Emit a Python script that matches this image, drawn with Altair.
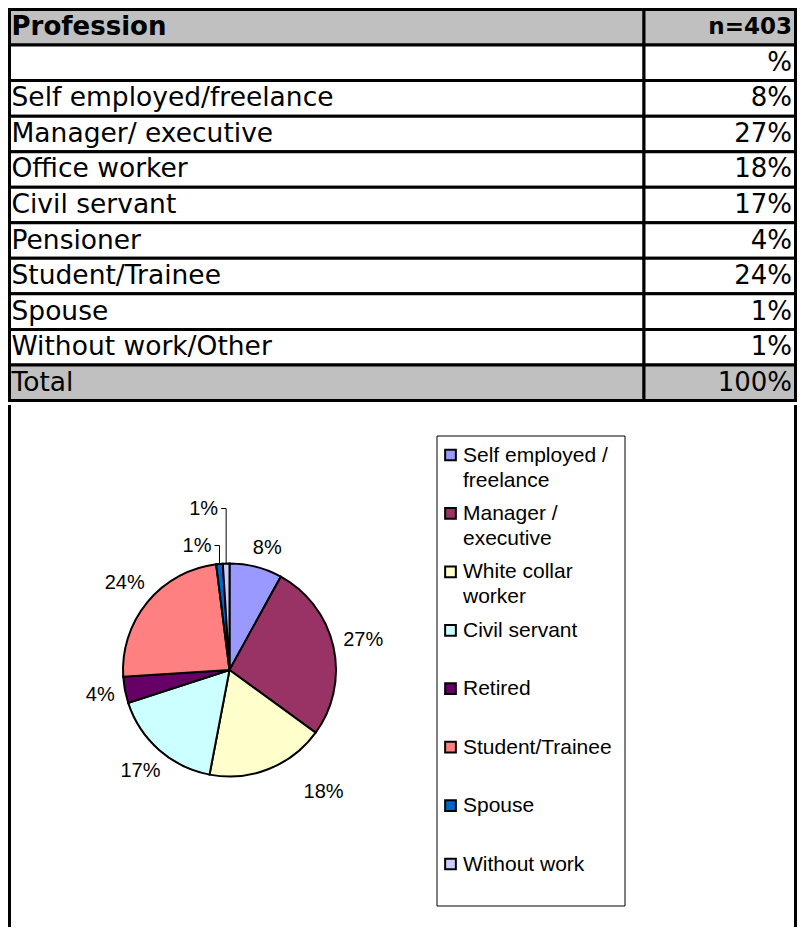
import altair as alt
import pandas as pd

# ---------------- data ----------------
row_labels = ["Self employed/freelance", "Manager/ executive", "Office worker",
              "Civil servant", "Pensioner", "Student/Trainee", "Spouse",
              "Without work/Other"]
row_values = ["8%", "27%", "18%", "17%", "4%", "24%", "1%", "1%"]
header_left, header_right = "Profession", "n=403"
unit_left, unit_right = "", "%"
total_left, total_right = "Total", "100%"

pie_categories = ["Self employed /\nfreelance", "Manager /\nexecutive",
                  "White collar\nworker", "Civil servant", "Retired",
                  "Student/Trainee", "Spouse", "Without work"]
pie_values = [8, 27, 18, 17, 4, 24, 1, 1]
pie_colors = ["#9999FF", "#993366", "#FFFFCC", "#CCFFFF", "#660066",
              "#FF8080", "#0066CC", "#CCCCFF"]

# ---------------- table ----------------
rows = [(header_left, header_right, "header"), (unit_left, unit_right, "unit")]
rows += [(l, v, "body") for l, v in zip(row_labels, row_values)]
rows += [(total_left, total_right, "total")]
table_df = pd.DataFrame({
    "r": list(range(len(rows))),
    "left": [r[0] for r in rows],
    "right": [r[1] for r in rows],
    "kind": [r[2] for r in rows],
})

W = 789
HA = 394
COL = 636
RIGHT = W - 1.5
yA = alt.Y("r:O", axis=None,
           scale=alt.Scale(range=[1.5, 392.5], paddingInner=0, paddingOuter=0))
fillA = alt.Fill("kind:N", legend=None,
                 scale=alt.Scale(domain=["header", "unit", "body", "total"],
                                 range=["#C0C0C0", "#FFFFFF", "#FFFFFF", "#C0C0C0"]))
baseA = alt.Chart(table_df)
cell1 = baseA.mark_rect(stroke="black", strokeWidth=3).encode(
    x=alt.value(1.5), x2=alt.value(COL), y=yA, fill=fillA)
cell2 = baseA.mark_rect(stroke="black", strokeWidth=3).encode(
    x=alt.value(COL), x2=alt.value(RIGHT), y=yA, fill=fillA)
txt_left = baseA.transform_filter("datum.kind != 'header'").mark_text(
    align="left", baseline="middle", font="DejaVu Sans", fontSize=26.5, color="black"
).encode(x=alt.value(3.5), y=yA, text="left:N")
txt_right = baseA.transform_filter("datum.kind != 'header'").mark_text(
    align="right", baseline="middle", font="DejaVu Sans", fontSize=26, color="black"
).encode(x=alt.value(RIGHT - 3.5), y=yA, text="right:N")
hdr_left = baseA.transform_filter("datum.kind == 'header'").mark_text(
    align="left", baseline="middle", font="DejaVu Sans", fontSize=26,
    fontWeight="bold", color="black"
).encode(x=alt.value(3.5), y=yA, text="left:N")
hdr_right = baseA.transform_filter("datum.kind == 'header'").mark_text(
    align="right", baseline="middle", font="DejaVu Sans", fontSize=23,
    fontWeight="bold", color="black"
).encode(x=alt.value(RIGHT - 3.5), y=yA, text="right:N")

chartA = alt.layer(cell1, cell2, txt_left, txt_right, hdr_left, hdr_right).properties(
    width=W, height=HA)

# ---------------- pie + legend ----------------
HB = 522
CX, CY, R = 221.5, 265, 106.5

pie_df = pd.DataFrame({
    "cat": pie_categories,
    "pct": pie_values,
    "idx": list(range(len(pie_categories))),
})
one = pd.DataFrame({"z": [0]})

fillB = alt.Fill("cat:N", legend=None,
                 scale=alt.Scale(domain=pie_categories, range=pie_colors))

pie_base = alt.Chart(pie_df).transform_window(
    cum="sum(pct)", sort=[alt.SortField("idx")], frame=[None, 0]
).transform_calculate(
    a0="2*PI*(datum.cum - datum.pct)/100",
    a1="2*PI*datum.cum/100",
    lab="datum.pct + '%'",
).transform_calculate(
    am="(datum.a0 + datum.a1)/2"
)

arcs = pie_base.mark_arc(outerRadius=R, stroke="black", strokeWidth=2).encode(
    theta=alt.Theta("a0:Q", scale=None, stack=None),
    theta2="a1:Q",
    x=alt.value(CX), y=alt.value(CY),
    fill=fillB,
)

# labels of larger slices: outside the pie, pushed out by the text box size
big_labels = pie_base.transform_filter("datum.pct >= 2").transform_calculate(
    la="datum.am + (datum.idx == 2 ? -0.28 : 0) + (datum.idx == 0 ? 0.05 : 0)",
).transform_calculate(
    w="11*length(datum.lab) + 6",
    lr="%f + 10 + abs(sin(datum.la))*datum.w/2 + abs(cos(datum.la))*7 + (datum.idx == 2 ? 20 : 0)" % R,
).mark_text(align="center", baseline="middle", font="Liberation Sans",
            fontSize=20, color="black").encode(
    x=alt.value(CX), y=alt.value(CY),
    theta=alt.Theta("la:Q", scale=None, stack=None),
    radius=alt.Radius("lr:Q", scale=None),
    text="lab:N",
)

small = pie_base.transform_filter("datum.pct < 2").transform_window(
    k="row_number()", sort=[alt.SortField("idx")]
).transform_calculate(
    ex="%f + %f*sin(datum.am)" % (CX, R),
    ey="%f - %f*cos(datum.am)" % (CY, R),
    ly="%f - %f - 18 - 37*(datum.k - 1)" % (CY, R),
)

small_labels = small.transform_calculate(lx="datum.ex - 8").mark_text(
    align="right", baseline="middle", font="Liberation Sans", fontSize=20,
    color="black").encode(
    x=alt.X("lx:Q", scale=None), y=alt.Y("ly:Q", scale=None), text="lab:N")

leaders = small.transform_calculate(pts="sequence(3)").transform_flatten(
    ["pts"]).transform_calculate(
    px="datum.pts == 2 ? datum.ex - 5 : datum.ex",
    py="datum.pts == 0 ? datum.ey : datum.ly",
).mark_line(color="black", strokeWidth=1).encode(
    x=alt.X("px:Q", scale=None), y=alt.Y("py:Q", scale=None),
    detail="cat:N", order="pts:Q")

legend_box = alt.Chart(one).mark_rect(fill="white", stroke="black",
                                      strokeWidth=1).encode(
    x=alt.value(429), x2=alt.value(617), y=alt.value(31), y2=alt.value(501))

yL = alt.Y("cat:N", sort=pie_categories, axis=None,
           scale=alt.Scale(type="point", range=[50, 459], padding=0))
legend_sym = alt.Chart(pie_df).mark_square(size=115, stroke="black",
                                           strokeWidth=2, opacity=1).encode(
    x=alt.value(442.5), y=yL, fill=fillB)
legend_txt = alt.Chart(pie_df).mark_text(
    align="left", baseline="line-top", lineHeight=25, dy=-12.5, lineBreak="\n",
    font="Liberation Sans", fontSize=21, color="black").encode(
    x=alt.value(455), y=yL, text="cat:N")

borders = alt.Chart(one).mark_rule(color="black", strokeWidth=3).encode(
    x=alt.value(1.5), y=alt.value(0), y2=alt.value(HB))
borders_r = alt.Chart(one).mark_rule(color="black", strokeWidth=3).encode(
    x=alt.value(RIGHT), y=alt.value(0), y2=alt.value(HB))

chartB = alt.layer(borders, borders_r, arcs, big_labels, leaders, small_labels,
                   legend_box, legend_sym, legend_txt).resolve_scale(
    y="independent", x="independent").properties(width=W, height=HB)

chart = alt.vconcat(chartA, chartB, spacing=0).resolve_scale(
    fill="independent").properties(padding=0).configure_view(stroke=None)

chart.save("out.html", embed_options={"renderer": "svg", "actions": False})
